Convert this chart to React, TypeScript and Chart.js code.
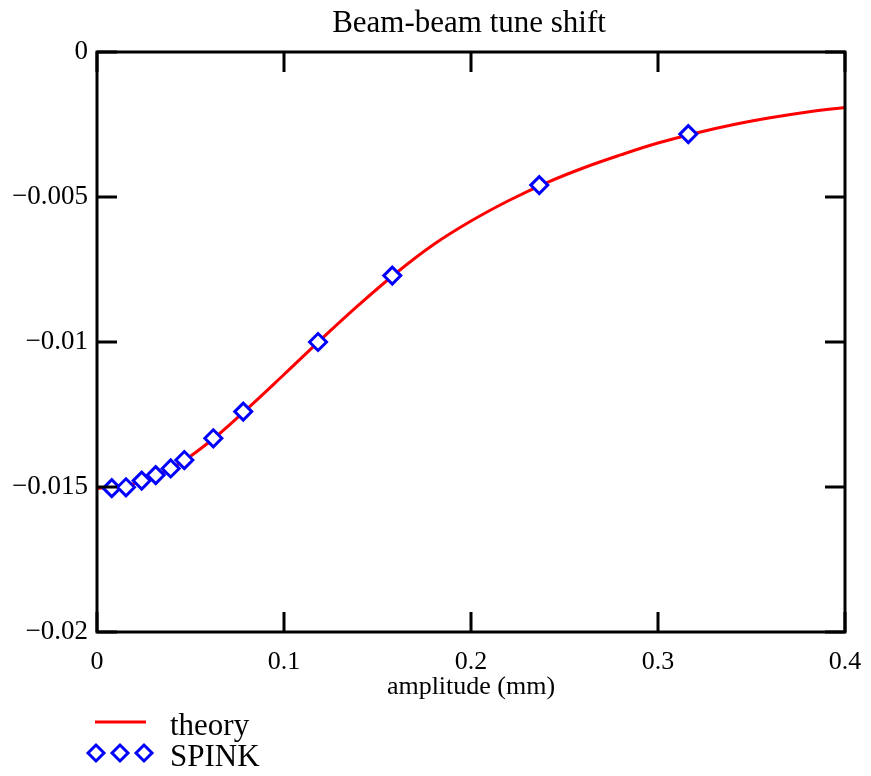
import React, { useEffect, useRef } from "react";
import { Chart, registerables } from "chart.js";

Chart.register(...registerables);

// ---- data ----
const TITLE = "Beam-beam tune shift";
const X_TITLE = "amplitude (mm)";
const THEORY_LABEL = "theory";
const SPINK_LABEL = "SPINK";

const theoryX = [0, 0.02, 0.04, 0.06, 0.08, 0.1, 0.12, 0.14, 0.16, 0.18, 0.2, 0.22, 0.24, 0.26, 0.28, 0.3, 0.32, 0.34, 0.36, 0.38, 0.4];
const theoryY = [-0.01505, -0.01488, -0.01435, -0.01345, -0.01232, -0.01112, -0.0099, -0.00872, -0.00762, -0.00664, -0.00583, -0.00513, -0.00452, -0.004, -0.00355, -0.00314, -0.0028, -0.00251, -0.00227, -0.00207, -0.00191];

const spinkX = [0.0079, 0.0155, 0.0239, 0.0314, 0.0394, 0.0467, 0.0622, 0.0782, 0.1182, 0.1579, 0.2365, 0.3162];
const spinkY = [-0.01504, -0.01501, -0.01478, -0.01459, -0.01436, -0.01407, -0.01332, -0.0124, -0.01, -0.00771, -0.00459, -0.00283];

const xTicks = [0, 0.1, 0.2, 0.3, 0.4];
const yTicks = [0, -0.005, -0.01, -0.015, -0.02];

const RED = "#ff0000";
const BLUE = "#0000ff";
const FONT = "'Liberation Serif', 'Times New Roman', serif";

function drawDiamond(ctx: CanvasRenderingContext2D, x: number, y: number, r: number) {
  ctx.beginPath();
  ctx.moveTo(x - r, y);
  ctx.lineTo(x, y - r);
  ctx.lineTo(x + r, y);
  ctx.lineTo(x, y + r);
  ctx.closePath();
  ctx.fillStyle = "#ffffff";
  ctx.fill();
  ctx.stroke();
}

const framePlugin = {
  id: "frameAndDecor",
  afterDraw(chart: any) {
    const { ctx, chartArea: a, scales } = chart;
    const TL = 20;
    ctx.save();
    ctx.strokeStyle = "#000";
    ctx.lineWidth = 3;
    ctx.lineCap = "butt";
    // frame
    ctx.strokeRect(a.left, a.top, a.right - a.left, a.bottom - a.top);
    // inward ticks on all sides
    ctx.beginPath();
    for (const v of xTicks) {
      const px = scales.x.getPixelForValue(v);
      ctx.moveTo(px, a.bottom);
      ctx.lineTo(px, a.bottom - TL);
      ctx.moveTo(px, a.top);
      ctx.lineTo(px, a.top + TL);
    }
    for (const v of yTicks) {
      const py = scales.y.getPixelForValue(v);
      ctx.moveTo(a.left, py);
      ctx.lineTo(a.left + TL, py);
      ctx.moveTo(a.right, py);
      ctx.lineTo(a.right - TL, py);
    }
    ctx.stroke();

    // title
    ctx.fillStyle = "#000";
    ctx.font = `31px ${FONT}`;
    ctx.textAlign = "center";
    ctx.textBaseline = "alphabetic";
    ctx.fillText(TITLE, 469, 32);

    // legend
    ctx.strokeStyle = RED;
    ctx.lineWidth = 3;
    ctx.beginPath();
    ctx.moveTo(95, 722);
    ctx.lineTo(146, 722);
    ctx.stroke();
    ctx.strokeStyle = BLUE;
    ctx.lineWidth = 3;
    for (const cx of [96, 120, 144]) drawDiamond(ctx, cx, 753, 8);
    ctx.fillStyle = "#000";
    ctx.font = `31px ${FONT}`;
    ctx.textAlign = "left";
    ctx.fillText(THEORY_LABEL, 170, 735);
    ctx.fillText(SPINK_LABEL, 170, 766);
    ctx.restore();
  },
};

export default function App() {
  const ref = useRef<HTMLCanvasElement>(null);
  useEffect(() => {
    if (!ref.current) return;
    const chart = new Chart(ref.current, {
      type: "line",
      data: {
        datasets: [
          {
            label: SPINK_LABEL,
            data: spinkX.map((x, i) => ({ x, y: spinkY[i] })),
            showLine: false,
            pointStyle: "rectRot",
            pointRadius: 8.5,
            pointBorderWidth: 3,
            borderColor: BLUE,
            backgroundColor: "#ffffff",
            pointBackgroundColor: "#ffffff",
            pointBorderColor: BLUE,
            order: 0,
          },
          {
            label: THEORY_LABEL,
            data: theoryX.map((x, i) => ({ x, y: theoryY[i] })),
            borderColor: RED,
            borderWidth: 3,
            pointRadius: 0,
            tension: 0.4,
            fill: false,
            order: 1,
          },
        ],
      },
      options: {
        animation: false,
        responsive: false,
        devicePixelRatio: 1,
        layout: { padding: { top: 52, right: 26, bottom: 70, left: 0 } },
        plugins: { legend: { display: false }, title: { display: false }, tooltip: { enabled: false } },
        scales: {
          x: {
            type: "linear",
            min: 0,
            max: 0.4,
            afterFit: (s: any) => { s.height = 74; s.paddingLeft = 0; s.paddingRight = 0; },
            afterBuildTicks: (s: any) => { s.ticks = xTicks.map((v) => ({ value: v })); },
            grid: { display: false, drawTicks: false },
            border: { display: false },
            ticks: {
              padding: 15,
              color: "#000",
              font: { family: FONT, size: 26 },
              maxRotation: 0,
              callback: (v: any) => Number(Number(v).toFixed(3)).toString(),
            },
            title: {
              display: true,
              text: X_TITLE,
              color: "#000",
              font: { family: FONT, size: 26 },
              padding: { top: 0, bottom: 3 },
            },
          },
          y: {
            type: "linear",
            min: -0.02,
            max: 0,
            afterFit: (s: any) => { s.width = 97; s.paddingTop = 0; s.paddingBottom = 0; },
            afterBuildTicks: (s: any) => { s.ticks = yTicks.map((v) => ({ value: v })); },
            grid: { display: false, drawTicks: false },
            border: { display: false },
            ticks: {
              padding: 9,
              color: "#000",
              font: { family: FONT, size: 27 },
              callback: (v: any) => (Number(v) === 0 ? "0" : "\u2212" + Number(Math.abs(Number(v)).toFixed(4)).toString()),
            },
          },
        },
      } as any,
      plugins: [framePlugin],
    });
    return () => chart.destroy();
  }, []);
  return (
    <div style={{ position: "absolute", left: 0, top: 0, width: 871, height: 776, background: "#fff" }}>
      <canvas ref={ref} width={871} height={776} style={{ display: "block" }} />
    </div>
  );
}
